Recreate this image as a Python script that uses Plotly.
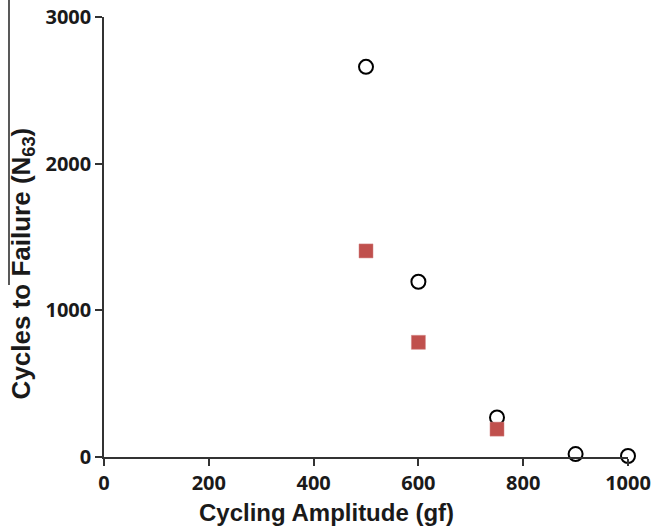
import plotly.graph_objects as go

amp_circle = [500, 600, 750, 900, 1000]
cycles_circle = [2660, 1195, 270, 20, 7]
amp_square = [500, 600, 750]
cycles_square = [1405, 782, 190]

x_ticks = [0, 200, 400, 600, 800, 1000]
y_ticks = [0, 1000, 2000, 3000]

x_title = "Cycling Amplitude (gf)"
y_title = "Cycles to Failure (N<sub>63</sub>)"

fig = go.Figure()
fig.add_trace(go.Scatter(
    x=amp_circle, y=cycles_circle, mode="markers", cliponaxis=False,
    marker=dict(symbol="circle-open", size=14, color="black", line=dict(width=2, color="black")),
    showlegend=False))
fig.add_trace(go.Scatter(
    x=amp_square, y=cycles_square, mode="markers", cliponaxis=False,
    marker=dict(symbol="square", size=14, color="#c0504d", line=dict(width=0.5, color="#d08080")),
    showlegend=False))

tickfont = dict(family="Open Sans", size=20, color="#1a1a1a", weight="bold")

fig.update_layout(
    template="none",
    width=654, height=530,
    margin=dict(l=104, r=26, t=17, b=73),
    paper_bgcolor="white", plot_bgcolor="white",
    xaxis=dict(range=[0, 1000], tickvals=x_ticks, ticktext=[str(v) for v in x_ticks],
               automargin=False,
               showgrid=False, zeroline=False, showline=True, linecolor="#333", linewidth=1.5,
               ticks="outside", ticklen=7, tickcolor="#333", tickwidth=1.5,
               tickfont=tickfont),
    yaxis=dict(range=[0, 3000], tickvals=y_ticks, ticktext=[str(v) for v in y_ticks],
               automargin=False,
               showgrid=False, zeroline=False, showline=True, linecolor="#333", linewidth=1.5,
               ticks="outside", ticklen=7, tickcolor="#333", tickwidth=1.5,
               tickfont=tickfont),
)
fig.add_annotation(text=x_title, xref="paper", yref="paper", x=0.4246, y=-0.125,
                   xanchor="center", yanchor="middle", showarrow=False,
                   font=dict(family="Liberation Sans", size=24, color="#1a1a1a", weight="bold"))
fig.add_annotation(text=y_title, xref="paper", yref="paper", x=-0.1565, y=0.44,
                   xanchor="center", yanchor="middle", showarrow=False, textangle=-90,
                   font=dict(family="Liberation Sans", size=26, color="#1a1a1a", weight="bold"))
fig.add_shape(type="line", xref="paper", yref="paper", x0=-0.1813, x1=-0.1813, y0=0.391, y1=1.04,
              line=dict(color="#222", width=1.5))

fig.write_html("out.html")
